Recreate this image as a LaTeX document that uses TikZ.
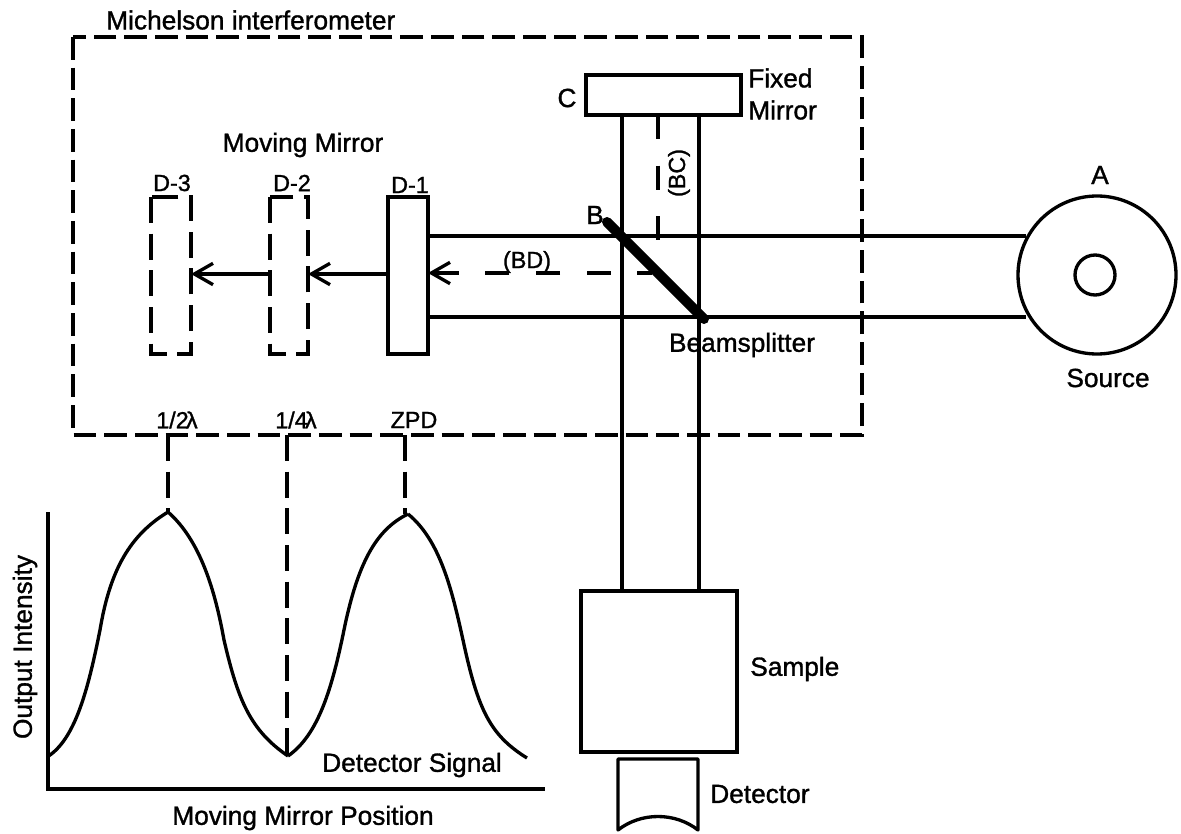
\documentclass[tikz,border=0pt]{standalone}
\usepackage{fontspec}
\setmainfont{Liberation Sans}
\newfontfamily\lab[FakeBold=1.2]{Liberation Sans}
\usetikzlibrary{arrows.meta}
\tikzset{
  x=0.75pt,y=-0.75pt,
  ln/.style={draw=black,line width=2.5pt},
  dsh/.style={draw=black,line width=2.5pt,dash pattern=on 19.5pt off 8pt},
  wide/.style={draw=black,line width=2.5pt,dash pattern=on 18pt off 20pt},
  dshbox/.style={draw=black,line width=2.5pt,dash pattern=on 17pt off 6pt},
  txt/.style={font=\fontsize{19.7}{22}\selectfont\lab,inner sep=0pt,text=black},
  small/.style={font=\fontsize{17.5}{20}\selectfont\lab,inner sep=0pt,text=black},
  open/.style={-{Straight Barb[length=14pt,width=16pt,line width=2.5pt]}}
}
\begin{document}
\begin{tikzpicture}
\useasboundingbox (0,0) rectangle (1181,834);
\fill[white] (0,0) rectangle (1181,834);
% outer box
\coordinate (o1) at (73,37); \coordinate (o2) at (862,435);
\draw[dshbox] (o1) rectangle (o2);
\node[txt,anchor=west] (title) at (106,20) {Michelson interferometer};
% beams
\coordinate (v1t) at (622,115); \coordinate (v1b) at (622,591);
\coordinate (v2t) at (699,115); \coordinate (v2b) at (699,591);
\draw[ln] (v1t)--(v1b); \draw[ln] (v2t)--(v2b);
\coordinate (h1l) at (428,236); \coordinate (h1r) at (1026,236);
\coordinate (h2l) at (428,317); \coordinate (h2r) at (1026,317);
\draw[ln] (h1l)--(h1r); \draw[ln] (h2l)--(h2r);
% mirrors
\draw[ln,fill=white] (586,75) rectangle (741,115);
\node[txt,anchor=center] (C) at (567,98) {C};
\node[txt,anchor=west] (fm1) at (748,78) {Fixed};
\node[txt,anchor=west] (fm2) at (748,110) {Mirror};
\draw[ln] (388,197) rectangle (428,354);
\draw[dsh] (270,197) rectangle (308,354);
\draw[dsh] (151,197) rectangle (191,354);
\coordinate (d1l) at (388,274);\coordinate (d2r) at (308,274);\coordinate (d2l) at (270,274);\coordinate (d3r) at (191,274);\coordinate (d1r) at (428,273);\coordinate (bdr) at (652,273);
\draw[ln,open] (d1l)--(d2r);
\draw[ln,open] (d2l)--(d3r);
\draw[wide,dash phase=7pt,open] (bdr)--(d1r);
\coordinate (bct) at (658,115);\coordinate (bcb) at (658,244);
\draw[wide] (bct)--(bcb);
\node[txt,anchor=center] (mm) at (303,145) {Moving Mirror};
\node[small,anchor=center] (d1) at (410,185) {D-1};
\node[small,anchor=center] (d2) at (292,183) {D-2};
\node[small,anchor=center] (d3) at (172,183) {D-3};
\node[small,anchor=center] (bd) at (527,262) {(BD)};
\node[small,anchor=center,rotate=90] (bc) at (679,173) {(BC)};
\node[txt,anchor=center] (B) at (595,215) {B};
\draw[black,line width=7.5pt,line cap=round] (607,222)--(704,319);
\node[txt,anchor=center] (bs) at (742,345) {Beamsplitter};
% source
\draw[ln,fill=white] (1097,275) circle (79);
\draw[ln,fill=white] (1095,275) circle (20);
\node[txt,anchor=center] (A) at (1100,175) {A};
\node[txt,anchor=center] (src) at (1108,378) {Source};
% sample
\draw[ln] (581,591) rectangle (737,752);
\node[txt,anchor=west] (sm) at (750,669) {Sample};
% detector
\draw[ln,line join=round] (618,830)--(618,759)--(698,759)--(698,830) .. controls (675,812) and (641,812) .. cycle;
\node[txt,anchor=west] (det) at (710,794) {Detector};
% graph
\draw[ln] (48,512)--(48,789)--(545,789);
\draw[ln] (47,757) .. controls (75,740) and (88,690) .. (100,630) .. controls (110,570) and (130,535) .. (168,512);
\draw[ln] (168,512) .. controls (200,540) and (215,590) .. (224,640) .. controls (238,700) and (250,730) .. (288,756);
\draw[ln] (288,756) .. controls (318,735) and (332,690) .. (345,625) .. controls (358,565) and (375,530) .. (408,514);
\draw[ln] (408,514) .. controls (440,540) and (452,590) .. (463,640) .. controls (478,710) and (490,735) .. (527,758);
\coordinate (t1) at (168,435);\coordinate (t2) at (287,435);\coordinate (t3) at (405,435);
\coordinate (p1) at (168,512);\coordinate (p2) at (287,755);\coordinate (p3) at (405,514);
\draw[dsh] (t1)--(p1);\draw[dsh] (t2)--(p2);\draw[dsh] (t3)--(p3);
\node[small,anchor=center] (l1) at (177,420) {1/2\kern-2ptλ};
\node[small,anchor=center] (l2) at (296,420) {1/4\kern-2ptλ};
\node[small,anchor=center] (l3) at (414,420) {ZPD};
\node[txt,anchor=center,rotate=90] (oi) at (25,647) {Output Intensity};
\node[txt,anchor=center] (ds) at (412,765) {Detector Signal};
\node[txt,anchor=center] (mp) at (303,818) {Moving Mirror Position};
\end{tikzpicture}
\end{document}
